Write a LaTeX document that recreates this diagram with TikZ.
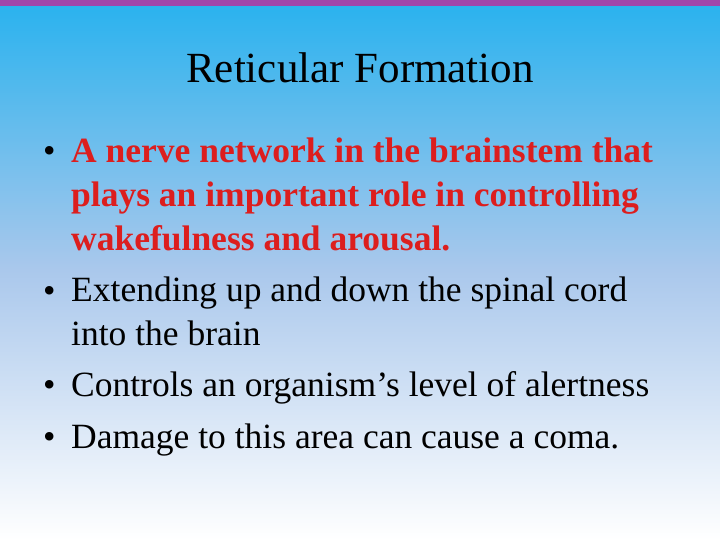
\documentclass[tikz,border=0pt]{standalone}
\usepackage{fontspec}
\setmainfont{Liberation Serif}
\usepackage{tikz}
\definecolor{skytop}{RGB}{40,178,238}
\definecolor{skymid}{RGB}{170,200,236}
\definecolor{barpurple}{RGB}{160,70,170}
\definecolor{redtext}{RGB}{220,30,30}

\begin{document}
\begin{tikzpicture}[x=1pt,y=-1pt,
    item/.style={anchor=base west,align=left,inner sep=0pt,font=\fontsize{35.5}{43.5}\selectfont},
    dot/.style={anchor=base west,inner sep=0pt,font=\fontsize{35.5}{43.5}\selectfont}]

        \useasboundingbox (0,0) rectangle (720,540);

        % background
        \shade[top color=skytop,bottom color=white,middle color=skymid] (0,0) rectangle (720,540);
        \fill[barpurple] (0,0) rectangle (720,6);

        % title
        \node[inner sep=0pt,anchor=base,font=\fontsize{43}{50}\selectfont] (title) at (360,83) {Reticular Formation};

        % bullets (multi-line nodes sit on their last baseline)
        \node[dot] (b1) at (43,163) {\textbullet};
        \node[item,text=redtext,font=\bfseries\fontsize{35.5}{43.5}\selectfont] (t1) at (71,250)
            {A nerve network in the brainstem that\\plays an important role in controlling\\wakefulness and arousal.};
        \node[dot] (b2) at (43,302) {\textbullet};
        \node[item] (t2) at (71,345) {Extending up and down the spinal cord\\into the brain};
        \node[dot] (b3) at (43,396) {\textbullet};
        \node[item] (t3) at (71,396) {Controls an organism’s level of alertness};
        \node[dot] (b4) at (43,448) {\textbullet};
        \node[item] (t4) at (71,448) {Damage to this area can cause a coma.};
    \end{tikzpicture}
\end{document}
